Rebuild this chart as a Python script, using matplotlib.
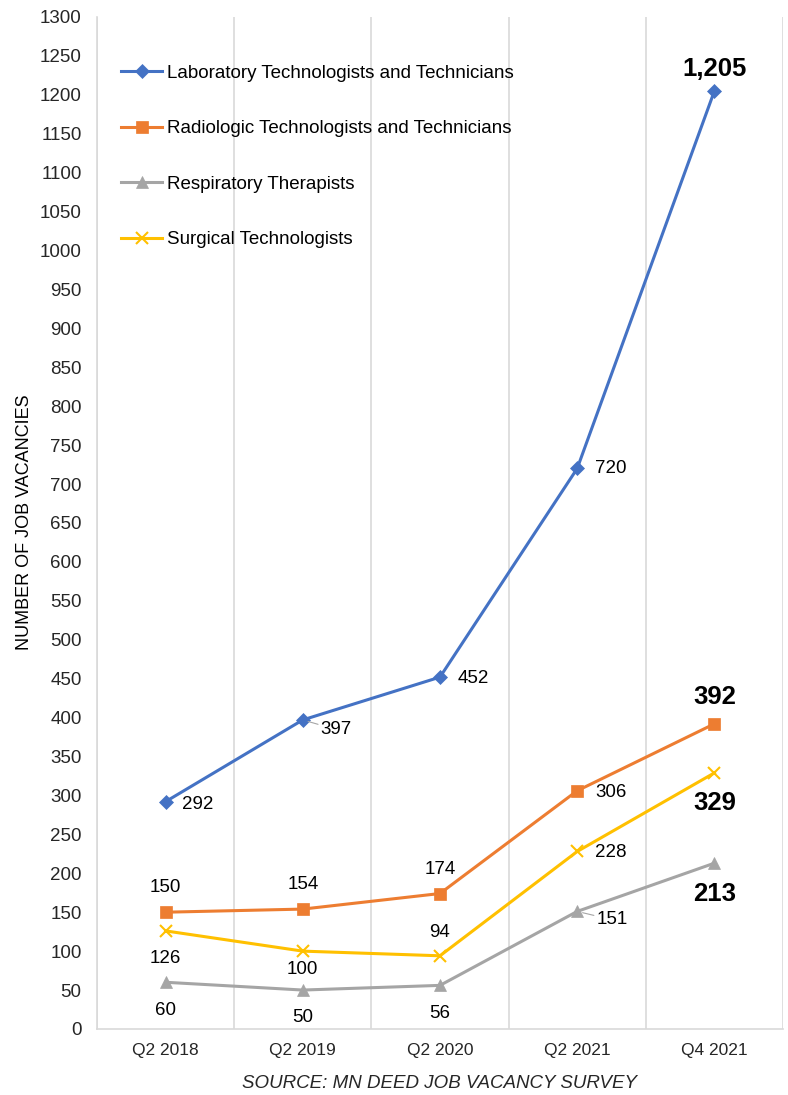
import numpy as np
import matplotlib.pyplot as plt

plt.rcParams['font.family'] = ['Liberation Sans', 'DejaVu Sans']

# Data
quarters = ['Q2 2018', 'Q2 2019', 'Q2 2020', 'Q2 2021', 'Q4 2021']
lab = [292, 397, 452, 720, 1205]
radiologic = [150, 154, 174, 306, 392]
respiratory = [60, 50, 56, 151, 213]
surgical = [126, 100, 94, 228, 329]

series = [
    ('Laboratory Technologists and Technicians', lab, '#4472C4', 'D', 7),
    ('Radiologic Technologists and Technicians', radiologic, '#ED7D31', 's', 8),
    ('Respiratory Therapists', respiratory, '#A5A5A5', '^', 8),
    ('Surgical Technologists', surgical, '#FFC000', 'x', 9),
]

# label placement per series/point: (dx, dy) in points, ha
lab_pos = [(12, -2, 'left'), (13, -7, 'left'), (13, -1, 'left'), (13, 0, 'left'), (0, 16, 'center')]
rad_pos = [(0, 18, 'center'), (0, 18, 'center'), (0, 17, 'center'), (13, -1, 'left'), (0, 19, 'center')]
resp_pos = [(0, -20, 'center'), (0, -20, 'center'), (0, -20, 'center'), (14, -6, 'left'), (0, -22, 'center')]
surg_pos = [(0, -20, 'center'), (0, -13, 'center'), (0, 17, 'center'), (13, -1, 'left'), (0, -22, 'center')]
positions = [lab_pos, rad_pos, resp_pos, surg_pos]
leaders = {(0, 1), (2, 3)}

fig = plt.figure(figsize=(7.88, 10.95), dpi=100)
ax = fig.add_axes([0.123, 0.0603, 0.8707, 0.9242])

x = np.arange(len(quarters))
for i, (name, vals, color, marker, ms) in enumerate(series):
    ax.plot(x, vals, color=color, lw=2.2, marker=marker, markersize=ms,
            markeredgewidth=1.5 if marker == 'x' else 0.5, label=name, zorder=3)
    for j, v in enumerate(vals):
        dx, dy, ha = positions[i][j]
        last = j == len(vals) - 1
        kw = {}
        if (i, j) in leaders:
            kw['arrowprops'] = dict(arrowstyle='-', color='#A5A5A5', lw=0.8, shrinkA=0, shrinkB=4)
        ax.annotate(f'{v:,}', (j, v), xytext=(dx, dy), textcoords='offset points',
                    ha=ha, va='center', fontsize=18.5 if last else 13.5,
                    fontweight='bold' if last else 'normal', color='black', zorder=4, **kw)

ax.set_xlim(-0.5, 4.5)
ax.set_ylim(0, 1300)
ax.set_yticks(np.arange(0, 1301, 50))
ax.set_xticks(x)
ax.set_xticklabels(quarters, fontsize=12.5, color='#262626')
ax.tick_params(axis='y', labelsize=13.5, length=0, pad=11, labelcolor='#262626')
ax.tick_params(axis='x', length=0, pad=10)
ax.set_xticks(np.arange(-0.5, 4.6, 1), minor=True)
ax.tick_params(axis='x', which='minor', length=0)
ax.grid(axis='x', which='minor', color='#D9D9D9', lw=1.2)
ax.grid(axis='x', which='major', visible=False)
for s in ['top', 'right']:
    ax.spines[s].set_visible(False)
ax.spines['left'].set_color('#D9D9D9')
ax.spines['bottom'].set_color('#D9D9D9')
ax.spines['left'].set_linewidth(1.2)
ax.spines['bottom'].set_linewidth(1.2)

fig.text(25 / 788, 1 - 522 / 1095, 'NUMBER OF JOB VACANCIES', rotation=90, fontsize=13,
         color='black', ha='center', va='center')
fig.text(440 / 788, 1 - 1083 / 1095, 'SOURCE: MN DEED JOB VACANCY SURVEY', fontsize=13.5,
         style='italic', color='#262626', ha='center', va='center')

ax.legend(loc='upper left', bbox_to_anchor=(0.035, 0.953), frameon=False, fontsize=13.5,
          handlelength=2.2, handletextpad=0.25, labelspacing=2.05, borderpad=0, borderaxespad=0)

fig.savefig('out.png', dpi=100)
